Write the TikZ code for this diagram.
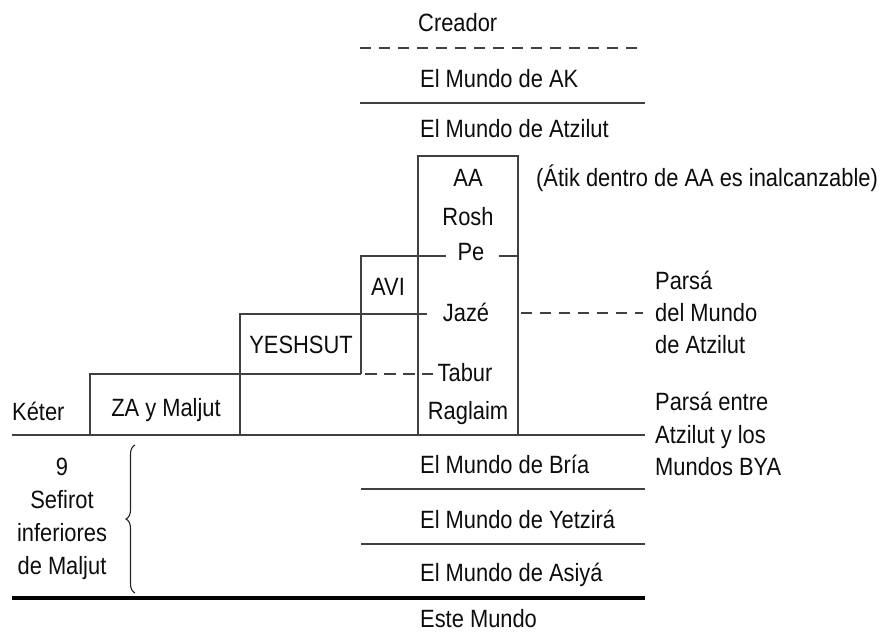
\documentclass[tikz,border=0pt]{standalone}
\usepackage{fontspec}
\setmainfont{Liberation Sans}[FakeStretch=0.875]
\usetikzlibrary{decorations.pathreplacing}
\begin{document}
\begin{tikzpicture}[x=1pt,y=-1pt,
  lbl/.style={inner sep=0pt, text height=17.2pt, text depth=0pt,
    font=\fontsize{25}{29}\selectfont, text=black!95},
  lw/.style={lbl, anchor=west},
  ln/.style={line width=1.5pt, draw=black!75},
  dln/.style={ln, dash pattern=on 11pt off 8pt},
  heavy/.style={line width=3.2pt, draw=black}]
\useasboundingbox (0,0) rectangle (885,634);

% main column texts
\node[lw] (creador) at (418,23) {Creador};
\node[lw] (ak) at (420,79) {El Mundo de AK};
\node[lw] (atz) at (420,129) {El Mundo de Atzilut};
\node[lw] (bria) at (420,465) {El Mundo de Bría};
\node[lw] (yetz) at (420,520) {El Mundo de Yetzirá};
\node[lw] (asiya) at (420,573) {El Mundo de Asiyá};
\node[lw] (este) at (420,619) {Este Mundo};

% AA column
\node[lbl] (aa) at (468,178) {AA};
\node[lbl] (rosh) at (468,217) {Rosh};
\node[lbl] (pe) at (471,252) {Pe};
\node[lbl] (jaze) at (466,313) {Jazé};
\node[lbl] (tabur) at (465,373) {Tabur};
\node[lbl] (raglaim) at (468,411) {Raglaim};
\node[lw] (atik) at (536,178) {(Átik dentro de AA es inalcanzable)};

% steps
\node[lbl] (avi) at (388,287) {AVI};
\node[lbl] (yesh) at (301,345) {YESHSUT};
\node[lbl] (za) at (166,408) {ZA y Maljut};
\node[lw] (keter) at (12,412) {Kéter};

% right labels
\node[lw] (p1) at (655,281) {Parsá};
\node[lw] (p2) at (655,313) {del Mundo};
\node[lw] (p3) at (655,345) {de Atzilut};
\node[lw] (q1) at (655,402) {Parsá entre};
\node[lw] (q2) at (655,435) {Atzilut y los};
\node[lw] (q3) at (655,467) {Mundos BYA};

% left labels
\node[lbl] (s1) at (62,467) {9};
\node[lbl] (s2) at (62,500) {Sefirot};
\node[lbl] (s3) at (62,533) {inferiores};
\node[lbl] (s4) at (62,566) {de Maljut};

% coordinates
\coordinate (dL) at (360,48);  \coordinate (dR) at (645,48);
\coordinate (sL) at (360,103); \coordinate (sR) at (645,103);
\coordinate (bTL) at (418,156); \coordinate (bTR) at (518,156);
\coordinate (bBL) at (418,435); \coordinate (bBR) at (518,435);
\coordinate (aviT) at (361,256); \coordinate (aviB) at (361,374);
\coordinate (peL) at (446,256); \coordinate (peR) at (499,256);
\coordinate (peE) at (518,256);
\coordinate (yeT) at (240,314); \coordinate (yeB) at (240,435);
\coordinate (jzL) at (427,314);
\coordinate (jzR1) at (521,313); \coordinate (jzR2) at (643,313);
\coordinate (zaT) at (90,374); \coordinate (zaB) at (90,435);
\coordinate (tbS) at (365,374); \coordinate (tbE) at (433,374);
\coordinate (baseL) at (12,435); \coordinate (baseR) at (645,435);

% top lines
\draw[dln] (dL) -- (dR);
\draw[ln] (sL) -- (sR);

% AA box
\draw[ln] (bBL) -- (bTL) -- (bTR) -- (bBR);

% Pe line and AVI box
\draw[ln] (aviB) -- (aviT) -- (peL);
\draw[ln] (peR) -- (peE);

% Jaze line
\draw[ln] (yeB) -- (yeT) -- (jzL);
\draw[dln] (jzR1) -- (jzR2);

% Tabur / ZA line
\draw[ln] (zaB) -- (zaT) -- (aviB);
\draw[ln, dash pattern=on 12pt off 7pt] (tbS) -- (tbE);

% base lines
\draw[ln] (baseL) -- (baseR);
\draw[ln] (361,489) -- (645,489);
\draw[ln] (361,544) -- (645,544);
\draw[heavy] (12,598) -- (645,598);

% brace
\draw[line width=1.1pt, draw=black!85, decorate, decoration={brace, amplitude=9pt}] (135,593) -- (135,445);
\end{tikzpicture}
\end{document}
